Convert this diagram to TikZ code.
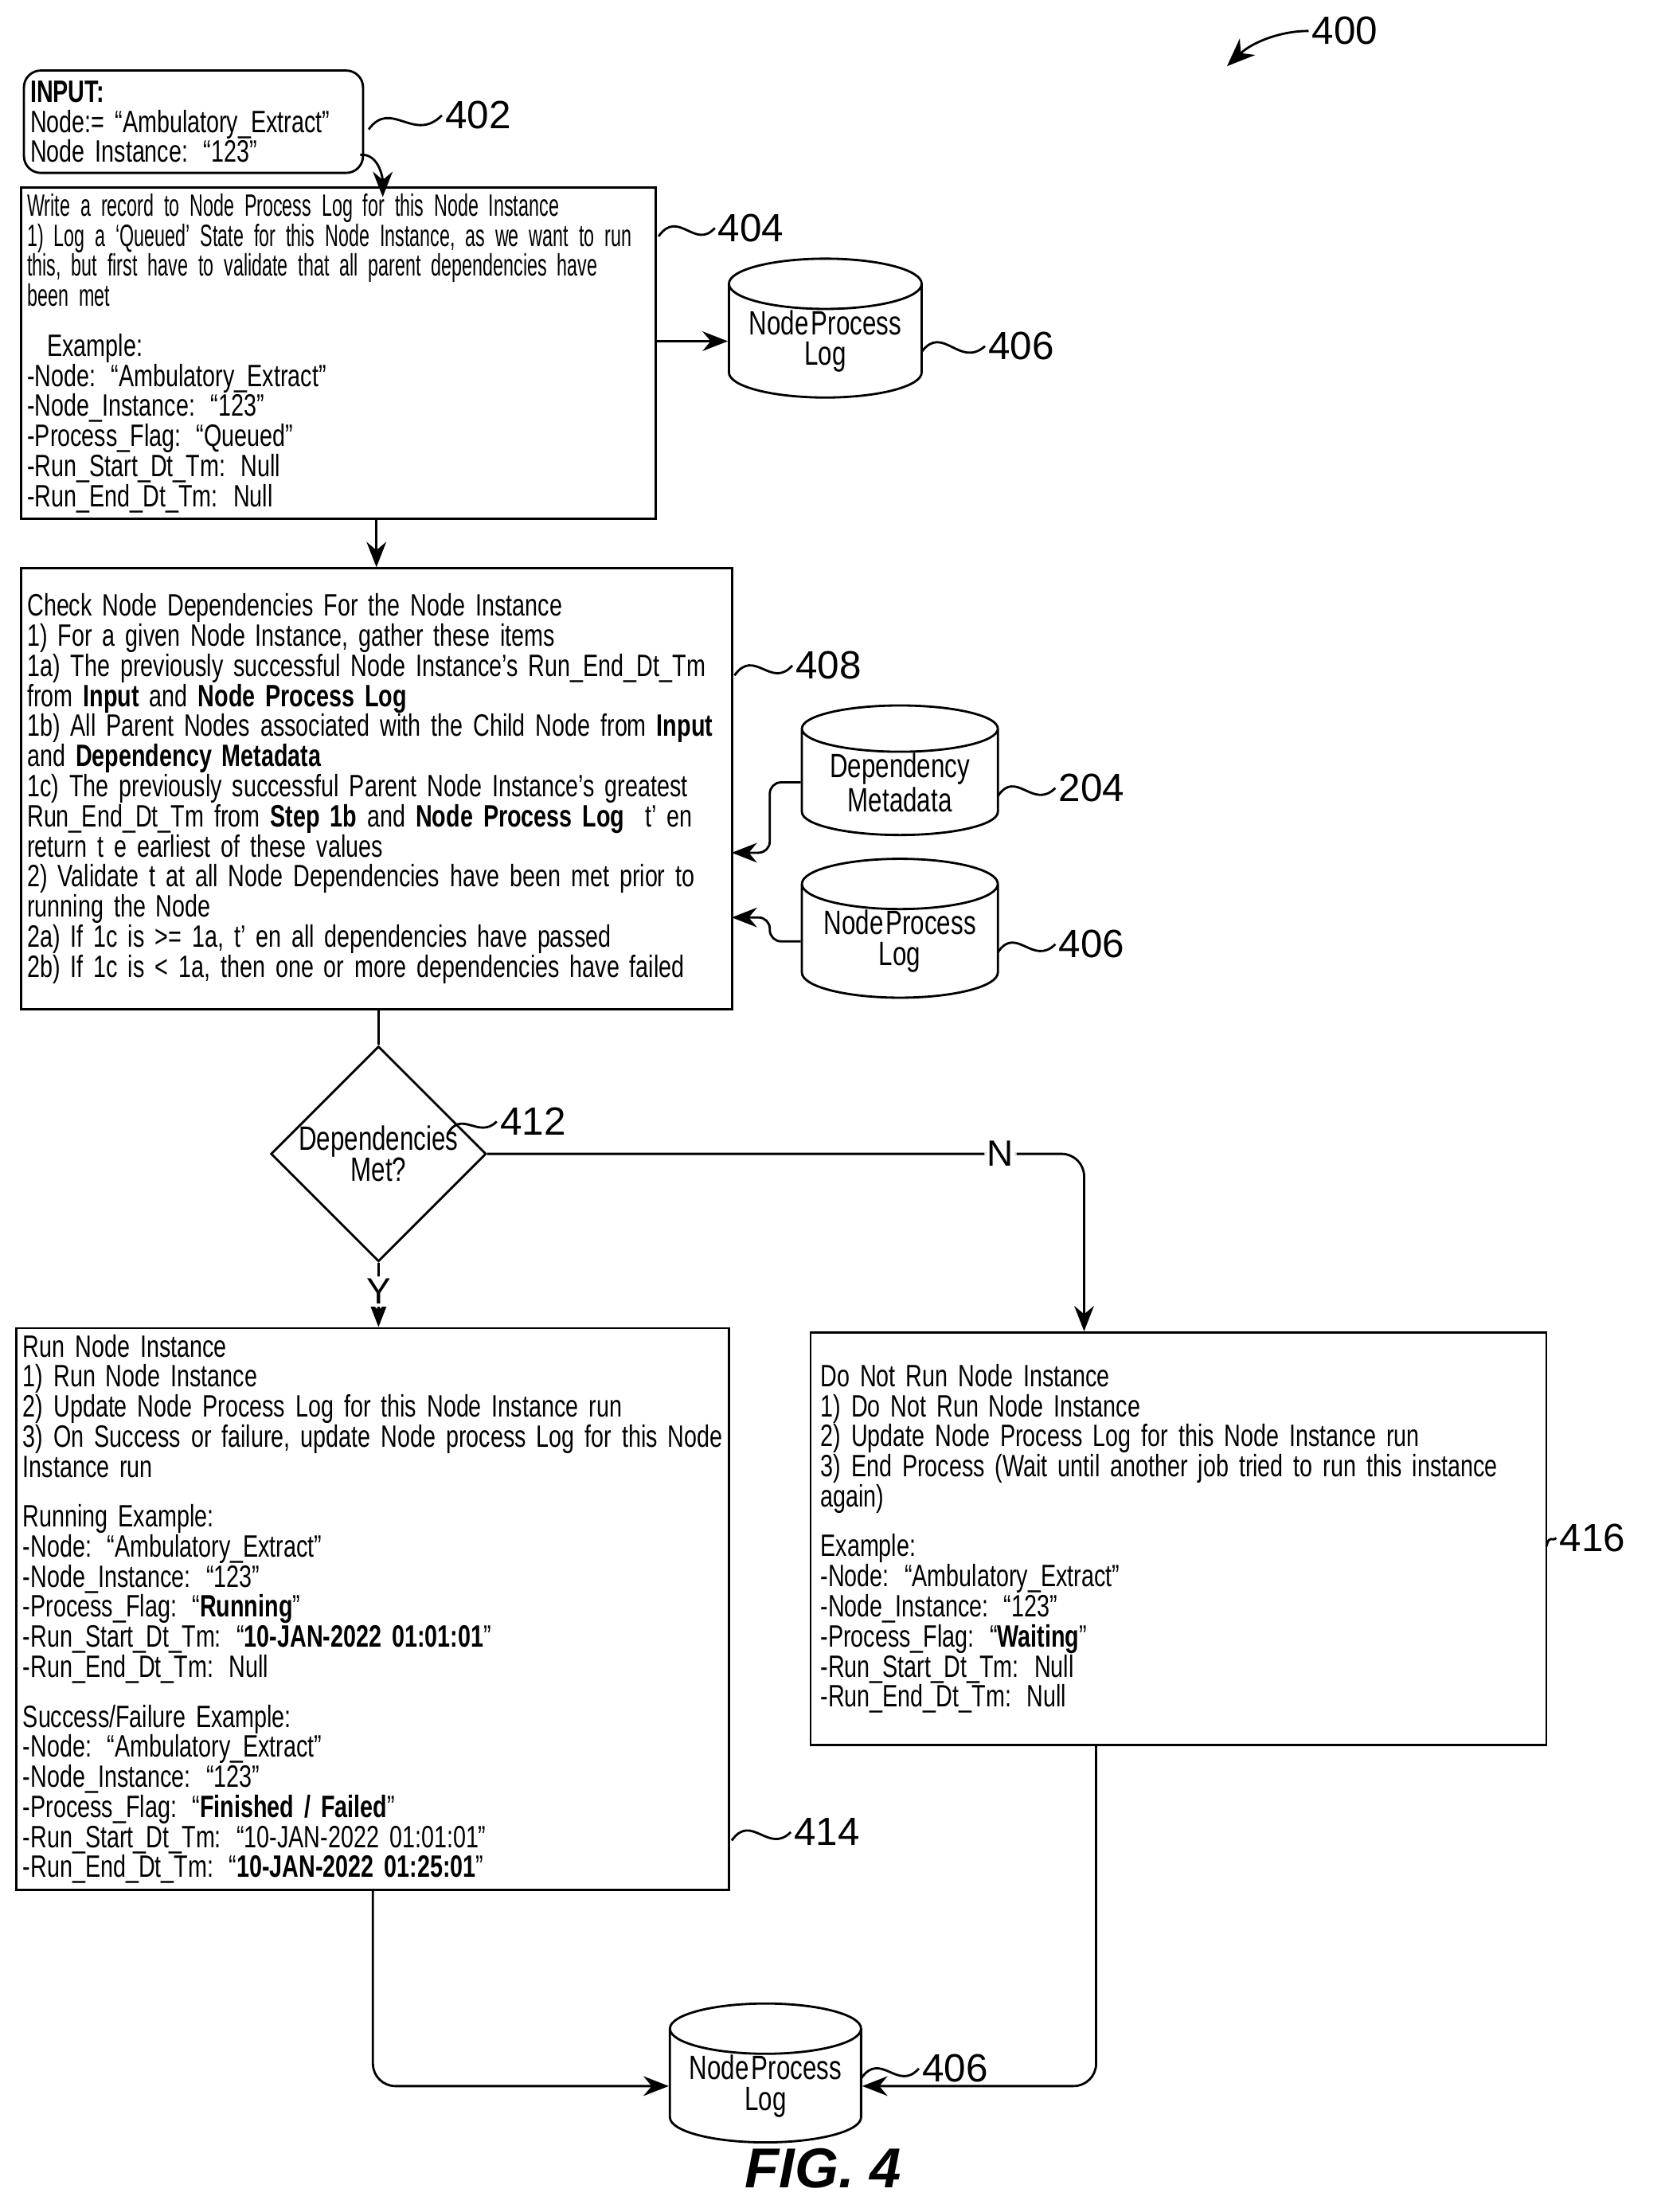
\documentclass[tikz,border=0pt]{standalone}
\usepackage{fontspec}
\setmainfont{Liberation Sans}
\newfontfamily\condA{Liberation Sans}[FakeStretch=0.74,WordSpace=0.35]
\newfontfamily\condB{Liberation Sans}[FakeStretch=0.6,WordSpace=0.3]
\usetikzlibrary{arrows.meta,shapes.geometric}

\tikzset{
  box/.style={draw,thick,inner sep=0.08cm,align=left,font=\condA\fontsize{11}{10.7}\selectfont},
  db/.style={draw,thick,cylinder,shape border rotate=90,shape aspect=0.33,align=center,
    inner sep=0pt,font=\condA\fontsize{12}{11}\selectfont},
  arr/.style={thick,-{Stealth[length=9pt,width=7pt]}},
  lead/.style={thick},
  num/.style={anchor=west,inner sep=1pt,font=\fontsize{14}{14}\selectfont}
}

\begin{document}
\begin{tikzpicture}[x=0.0176cm,y=-0.0176cm]
\useasboundingbox (0,0) rectangle (1180,1572);

% boxes
\node[box,rounded corners=6pt,minimum width=4.24cm,minimum height=1.28cm,text width=4.08cm] (in) at (137.5,86.5)
  {\textbf{INPUT:}\\Node:= “Ambulatory\_Extract”\\Node Instance: “123”};
\node[box,minimum width=7.94cm,minimum height=3.91cm,text width=7.78cm] (log) at (240.5,251)
  {{\condB Write a record to Node Process Log for this Node Instance}\\
   {\condB 1) Log a ‘Queued’ State for this Node Instance, as we want to run}\\
   {\condB this, but first have to validate that all parent dependencies have}\\
   {\condB been met}\\[7pt]
   \hspace*{0.25cm}Example:\\
   -Node: “Ambulatory\_Extract”\\
   -Node\_Instance: “123”\\
   -Process\_Flag: “Queued”\\
   -Run\_Start\_Dt\_Tm: Null\\
   -Run\_End\_Dt\_Tm: Null};
\node[box,minimum width=8.89cm,minimum height=5.51cm,text width=8.73cm] (chk) at (267.5,560.5)
  {Check Node Dependencies For the Node Instance\\
   1) For a given Node Instance, gather these items\\
   1a) The previously successful Node Instance’s Run\_End\_Dt\_Tm\\
   from \textbf{Input} and \textbf{Node Process Log}\\
   1b) All Parent Nodes associated with the Child Node from \textbf{Input}\\
   and \textbf{Dependency Metadata}\\
   1c) The previously successful Parent Node Instance’s greatest\\
   Run\_End\_Dt\_Tm from \textbf{Step 1b} and \textbf{Node Process Log}\ \ t’ en\\
   return t e earliest of these values\\
   2) Validate t at all Node Dependencies have been met prior to\\
   running the Node\\
   2a) If 1c is >= 1a, t’ en all dependencies have passed\\
   2b) If 1c is < 1a, then one or more dependencies have failed};
\node[box,minimum width=8.91cm,minimum height=7.02cm,text width=8.75cm] (run) at (265,1143.5)
  {Run Node Instance\\
   1) Run Node Instance\\
   2) Update Node Process Log for this Node Instance run\\
   3) On Success or failure, update Node process Log for this Node\\
   Instance run\\[7pt]
   Running Example:\\
   -Node: “Ambulatory\_Extract”\\
   -Node\_Instance: “123”\\
   -Process\_Flag: “\textbf{Running}”\\
   -Run\_Start\_Dt\_Tm: “\textbf{10-JAN-2022 01:01:01}”\\
   -Run\_End\_Dt\_Tm: Null\\[7pt]
   Success/Failure Example:\\
   -Node: “Ambulatory\_Extract”\\
   -Node\_Instance: “123”\\
   -Process\_Flag: “\textbf{Finished / Failed}”\\
   -Run\_Start\_Dt\_Tm: “10-JAN-2022 01:01:01”\\
   -Run\_End\_Dt\_Tm: “\textbf{10-JAN-2022 01:25:01}”};
\node[box,minimum width=9.20cm,minimum height=5.16cm,text width=8.95cm] (skip) at (837.5,1093.5)
  {Do Not Run Node Instance\\
   1) Do Not Run Node Instance\\
   2) Update Node Process Log for this Node Instance run\\
   3) End Process (Wait until another job tried to run this instance\\
   again)\\[7pt]
   Example:\\
   -Node: “Ambulatory\_Extract”\\
   -Node\_Instance: “123”\\
   -Process\_Flag: “\textbf{Waiting}”\\
   -Run\_Start\_Dt\_Tm: Null\\
   -Run\_End\_Dt\_Tm: Null};

% data stores
\node[db,minimum width=2.41cm,minimum height=1.32cm] (db1) at (586.5,242.5) {Node Process\\Log};
\node[db,minimum width=2.45cm,minimum height=1.34cm] (dep) at (639.5,556) {Dependency\\Metadata};
\node[db,minimum width=2.45cm,minimum height=1.34cm] (db2) at (639.5,669) {Node Process\\Log};
\node[db,minimum width=2.39cm,minimum height=1.32cm] (db3) at (544,1482.5) {Node Process\\Log};

% decision
\node[draw,thick,diamond,inner sep=0pt,minimum width=2.46cm,minimum height=1.94cm,align=center,
  font=\condA\fontsize{12}{11}\selectfont] (dec) at (269,820) {Dependencies\\Met?};

% connectors
\coordinate (inOut) at (256,110);
\coordinate (logIn) at (272,140);
\coordinate (depIn) at (520,606);
\coordinate (db2In) at (520,652);
\draw[arr] (inOut) to[out=5,in=90] (logIn);
\draw[arr] (db1.west -| log.east) -- (db1.west);
\draw[arr] (log.south -| chk.north) -- (chk.north);
\draw[arr,rounded corners=4pt] (dep.west) -- ++(-22,0) |- (depIn);
\draw[arr,rounded corners=4pt] (db2.west) -- ++(-22,0) |- (db2In);
\draw[thick] (chk.south -| dec.north) -- (dec.north);
\draw[arr,rounded corners=8pt] (dec.east) -| ([xshift=-1.18cm]skip.north)
  node[pos=0.43,fill=white,inner sep=1pt,font=\fontsize{13}{13}\selectfont] {N};
\draw[arr] (dec.south) -- (dec.south |- run.north)
  node[pos=0.45,fill=white,inner sep=1pt,font=\fontsize{13}{13}\selectfont] {Y};
\draw[arr,rounded corners=8pt] (run.south) |- (db3.west);
\draw[arr,rounded corners=8pt] ([xshift=-1.03cm]skip.south) |- (db3.east);

% reference numerals
\node[num] (n400) at (930,22) {400};
\coordinate (a400) at (872,47);
\draw[thick,-{Stealth[length=10pt,width=8pt]}] (n400.west) .. controls (910,22) and (890,30) .. (a400);
\node[num] (n402) at (314,82) {402};
\draw[lead] (262,92) .. controls (278,70) and (294,102) .. (n402.west);
\node[num] (n404) at (508,162) {404};
\draw[lead] (468,168) .. controls (482,148) and (494,178) .. (n404.west);
\node[num] (n406a) at (700,246) {406};
\draw[lead] (655,250) .. controls (670,230) and (682,262) .. (n406a.west);
\node[num] (n408) at (563,473) {408};
\draw[lead] (522,480) .. controls (536,460) and (548,490) .. (n408.west);
\node[num] (n204) at (750,560) {204};
\draw[lead] (709,566) .. controls (722,546) and (734,576) .. (n204.west);
\node[num] (n406b) at (750,671) {406};
\draw[lead] (709,677) .. controls (722,657) and (734,687) .. (n406b.west);
\node[num] (n412) at (353,797) {412};
\draw[lead] (318,806) .. controls (328,788) and (340,810) .. (n412.west);
\node[num] (n414) at (562,1302) {414};
\draw[lead] (520,1308) .. controls (534,1288) and (546,1318) .. (n414.west);
\node[num] (n416) at (1106,1093) {416};
\draw[lead] (1099,1099) .. controls (1101,1090) and (1103,1096) .. (n416.west);
\node[num] (n406c) at (653,1470) {406};
\draw[lead] (612,1477) .. controls (626,1457) and (638,1487) .. (n406c.west);

\node[font=\bfseries\itshape\fontsize{20}{20}\selectfont] (fig) at (585,1541) {FIG. 4};
\end{tikzpicture}
\end{document}
